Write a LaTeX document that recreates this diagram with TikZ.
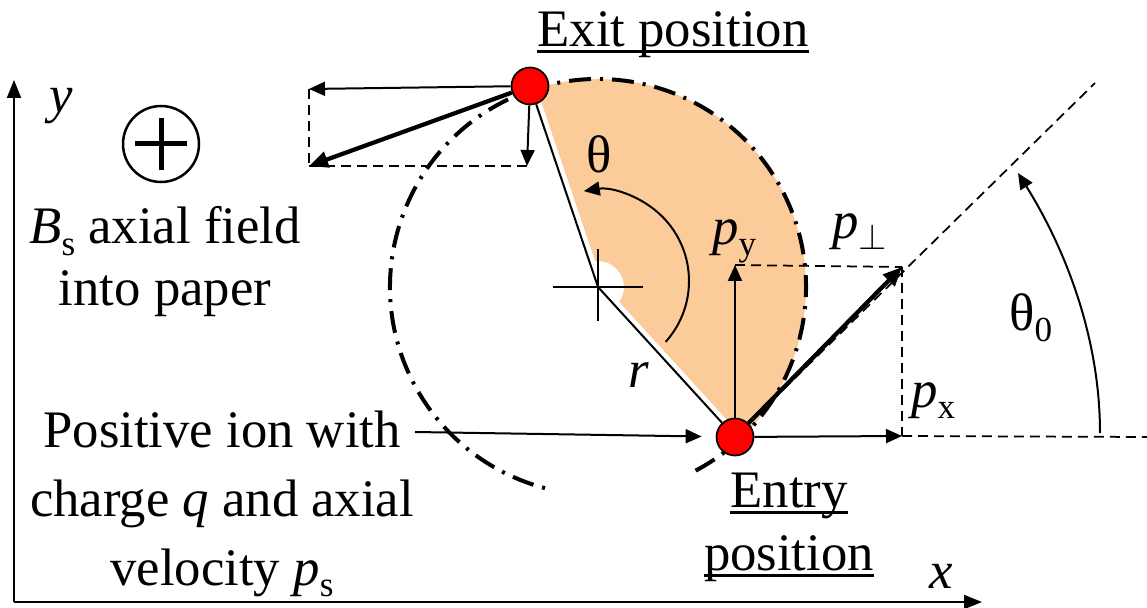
\documentclass[tikz,border=0pt]{standalone}
\usepackage{fontspec}
\setmainfont{Liberation Serif}
\usetikzlibrary{arrows.meta, calc}
\definecolor{cIon}{HTML}{FF0000}
\definecolor{cSector}{HTML}{FBCC99}
\tikzset{
  >={Triangle[length=0.32cm,width=0.28cm]},
  txt/.style={inner sep=0pt, font=\fontsize{30}{37}\selectfont},
  thinline/.style={line width=0.04cm},
  vec/.style={->, line width=0.04cm},
  bigvec/.style={-{Triangle[length=0.38cm,width=0.32cm]}, line width=0.085cm},
  axis/.style={-{Triangle[length=0.36cm,width=0.28cm]}, line width=0.04cm},
  guide/.style={line width=0.035cm, dash pattern=on 0.2cm off 0.12cm},
  orbit/.style={line width=0.08cm, dash pattern=on 0.44cm off 0.18cm on 0.06cm off 0.18cm},
  ion/.style={circle, draw=black, fill=cIon, line width=0.035cm, minimum size=0.74cm, inner sep=0pt},
  uline/.style={line width=0.06cm},
}
\newcommand{\lowsub}[1]{\raisebox{-0.22em}{\fontsize{20}{20}\selectfont #1}}
\newcommand{\pvec}[1]{\textit{p}\lowsub{#1}}

\begin{document}
\begin{tikzpicture}[x=0.02cm, y=-0.02cm]
\useasboundingbox (0,0) rectangle (1147,608);

% ===================== axes =====================
\coordinate (O) at (14,602);
\coordinate (xend) at (982,602);
\coordinate (yend) at (14,80);
\draw[axis] (O) -- (yend);
\draw[axis] (O) -- (xend);
\node[txt, anchor=base] (ylbl) at (61,113) {\textit{y}};
\node[txt, anchor=base] (xlbl) at (941,588) {\textit{x}};

% ===================== notes on the left =====================
\node[circle, draw, line width=0.05cm, minimum size=1.52cm, inner sep=0pt] (bin) at (161,144) {};
\draw[line width=0.1cm] ($(bin.center)+(-26,0)$) -- ($(bin.center)+(26,0)$);
\draw[line width=0.1cm] ($(bin.center)+(0,-26)$) -- ($(bin.center)+(0,26)$);
% base of a two/three line node = last line
\node[txt, align=center, anchor=base, font=\fontsize{30}{35}\selectfont] (bnote) at (165,305)
     {\textit{B}\lowsub{s} axial field\\into paper};
\node[txt, align=center, anchor=base, font=\fontsize{30}{39}\selectfont] (ionnote) at (222,585)
     {Positive ion with\\charge \textit{q} and axial\\velocity \pvec{s}};

% ===================== orbit =====================
\coordinate (C) at (598,287);
\coordinate (Ct) at (598,281);
\coordinate (entrypt) at (735,437);
\coordinate (exitpt) at (530,86);
\fill[cSector] ($(C)+(47.6:26)$) -- ($(C)+(47.6:208)$)
     arc[start angle=47.6, end angle=-108.7, radius=208]
     -- ($(C)+(-108.7:26)$) arc[start angle=-108.7, end angle=47.6, radius=26] -- cycle;
\draw[white, line width=0.22cm] (C) -- (entrypt);
\draw[white, line width=0.22cm] (C) -- (exitpt);
\draw[orbit] ($(C)+(62:208)$) arc[start angle=62, end angle=-257, radius=208];

\node[ion] (entry) at (entrypt) {};
\node[ion] (exit) at (exitpt) {};

\draw[thinline] (C) -- (entry);
\draw[thinline] (C) -- (exit);
\draw[thinline] ($(C)+(-45,0)$) -- ($(C)+(45,0)$);
\draw[thinline] ($(C)+(0,-38)$) -- ($(C)+(0,34)$);
\draw[vec] ($(Ct)+(42:91)$) arc[start angle=42, end angle=-99, radius=91];
\node[txt, anchor=base west] (thlbl) at (586,173) {θ};
\node[txt, anchor=base west] (rlbl) at (628,387) {\textit{r}};

% ===================== momentum at entry =====================
\coordinate (pyTip) at (735,265);
\coordinate (ppTip) at (902,267);
\coordinate (pxTip) at (902,436);
\coordinate (rayEnd) at (1095,83);
\coordinate (horEnd) at (1147,437);
\draw[guide] (pyTip) -- (ppTip);
\draw[guide] (ppTip) -- (pxTip);
\draw[guide] (pxTip) -- (horEnd);
\draw[guide] (entry) -- (rayEnd);
\draw[vec] (entry) -- (pyTip);
\draw[vec] (entry) -- (pxTip);
\draw[bigvec] (entry) -- (ppTip);
\node[txt, anchor=base west] (pylbl) at (712,244) {\pvec{y}};
\node[txt, anchor=base west] (pplbl) at (832,238) {\pvec{$\perp$}};
\node[txt, anchor=base west] (pxlbl) at (911,407) {\pvec{x}};

% angle of entry
\coordinate (t0a) at (1100,433);
\coordinate (t0b) at (1018,173);
\draw[vec] (t0a) .. controls (1100,338) and (1066,250) .. (t0b);
\node[txt, anchor=base west] (t0lbl) at (1009,330) {θ\lowsub{0}};

% feed arrow into the entry point
\coordinate (feed) at (415,432);
\draw[vec, shorten >=0.28cm] (feed) -- (entry);

% ===================== momentum at exit =====================
\coordinate (exL) at (309,89);
\coordinate (exLL) at (309,166);
\coordinate (exD) at (527,166);
\draw[guide] (exL) -- (exLL);
\draw[guide] (exLL) -- (exD);
\draw[vec] (exit) -- (exL);
\draw[bigvec] (exit) -- (exLL);
\draw[vec] (exit) -- (exD);

% ===================== position labels =====================
\node[txt, anchor=base] (exitlbl) at (673,47) {Exit position};
\draw[uline] ($(exitlbl.base west)+(0,5)$) -- ($(exitlbl.base east)+(0,5)$);
\node[txt, anchor=base] (entrylbl) at (789,507) {Entry};
\draw[uline] ($(entrylbl.base west)+(0,5)$) -- ($(entrylbl.base east)+(0,5)$);
\node[txt, anchor=base] (poslbl) at (789,570) {position};
\draw[uline] ($(poslbl.base west)+(0,5)$) -- ($(poslbl.base east)+(0,5)$);

\end{tikzpicture}
\end{document}
